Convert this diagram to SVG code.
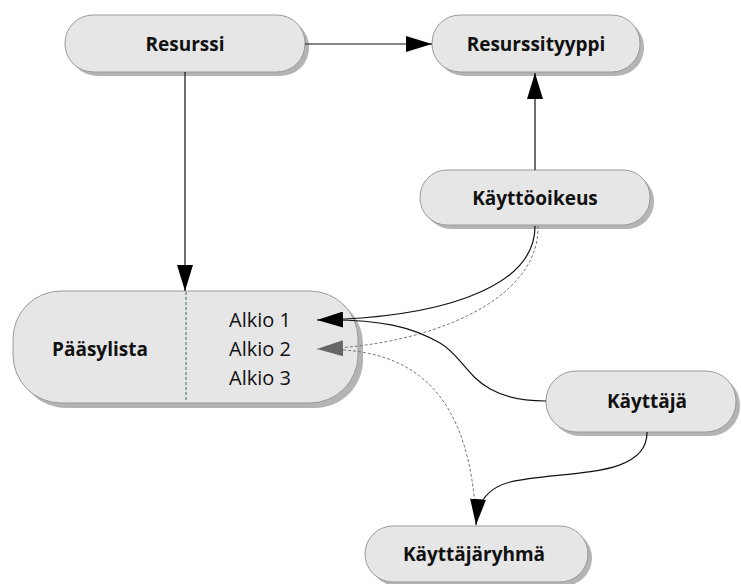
<svg xmlns="http://www.w3.org/2000/svg" width="741" height="584" viewBox="0 0 741 584">
<style>
.box{fill:#e6e6e6;stroke:#9a9a9a;stroke-width:1}
.sh{fill:#b4b4b4}
.lbl{font-family:"Open Sans","Liberation Sans",sans-serif;font-weight:bold;font-size:19px;fill:#111;text-anchor:middle}
.item{font-family:"Open Sans","Liberation Sans",sans-serif;font-size:20px;fill:#111}
.ln{fill:none;stroke:#111;stroke-width:1.2}
.dl{fill:none;stroke:#777;stroke-width:1;stroke-dasharray:3,2}
</style>
<defs>
<marker id="ah" markerUnits="userSpaceOnUse" markerWidth="26" markerHeight="16" refX="26" refY="8" orient="auto"><path d="M0,0 L26,8 L0,16 z" fill="#000"/></marker>
<marker id="ahg" markerUnits="userSpaceOnUse" markerWidth="26" markerHeight="16" refX="26" refY="8" orient="auto"><path d="M0,0 L26,8 L0,16 z" fill="#666"/></marker>
</defs>
<g id="resurssi">
<rect class="sh" x="69" y="19" width="240" height="57" rx="28"/>
<rect class="box" x="65" y="15" width="240" height="57" rx="28"/>
<text class="lbl" x="185" y="51">Resurssi</text>
</g>
<g id="resurssityyppi">
<rect class="sh" x="436" y="19" width="208" height="57" rx="28"/>
<rect class="box" x="432" y="15" width="208" height="57" rx="28"/>
<text class="lbl" x="536" y="51">Resurssityyppi</text>
</g>
<g id="kayttooikeus">
<rect class="sh" x="424" y="174" width="230" height="55" rx="27"/>
<rect class="box" x="420" y="170" width="230" height="55" rx="27"/>
<text class="lbl" x="535" y="205">Käyttöoikeus</text>
</g>
<g id="paasylista">
<rect class="sh" x="18" y="296" width="345" height="112" rx="48"/>
<rect class="box" x="13" y="291" width="345" height="112" rx="48"/>
<line x1="186" y1="292" x2="186" y2="402" stroke="#2e6b6b" stroke-width="1" stroke-dasharray="3,2"/>
<text class="lbl" x="100" y="356">Pääsylista</text>
<text class="item" x="229" y="327">Alkio 1</text>
<text class="item" x="229" y="356">Alkio 2</text>
<text class="item" x="229" y="385">Alkio 3</text>
</g>
<g id="kayttaja">
<rect class="sh" x="550" y="375" width="190" height="61" rx="30"/>
<rect class="box" x="546" y="371" width="190" height="61" rx="30"/>
<text class="lbl" x="647" y="408">Käyttäjä</text>
</g>
<g id="kayttajaryhma">
<rect class="sh" x="369" y="530" width="223" height="56" rx="28"/>
<rect class="box" x="365" y="526" width="223" height="56" rx="28"/>
<text class="lbl" x="474" y="561">Käyttäjäryhmä</text>
</g>
<g id="connectors">
<path class="ln" d="M305,44 L432,44" marker-end="url(#ah)"/>
<path class="ln" d="M185,72 L185,291" marker-end="url(#ah)"/>
<path class="ln" d="M535,170 L535,73" marker-end="url(#ah)"/>
<path class="ln" d="M535,226 C535,292 430,318 317,320" marker-end="url(#ah)"/>
<path class="dl" d="M538,226 C540,300 430,346 317,349" marker-end="url(#ahg)"/>
<path class="ln" d="M546,401 C470,401 470,360 440,343 C410,326 380,320 330,320"/>
<path class="dl" d="M343,350 C420,355 470,400 476,520"/>
<path class="ln" d="M647,432 C648,480 560,470 510,482 C488,488 478,500 476,525" marker-end="url(#ah)"/>
</g>
</svg>
